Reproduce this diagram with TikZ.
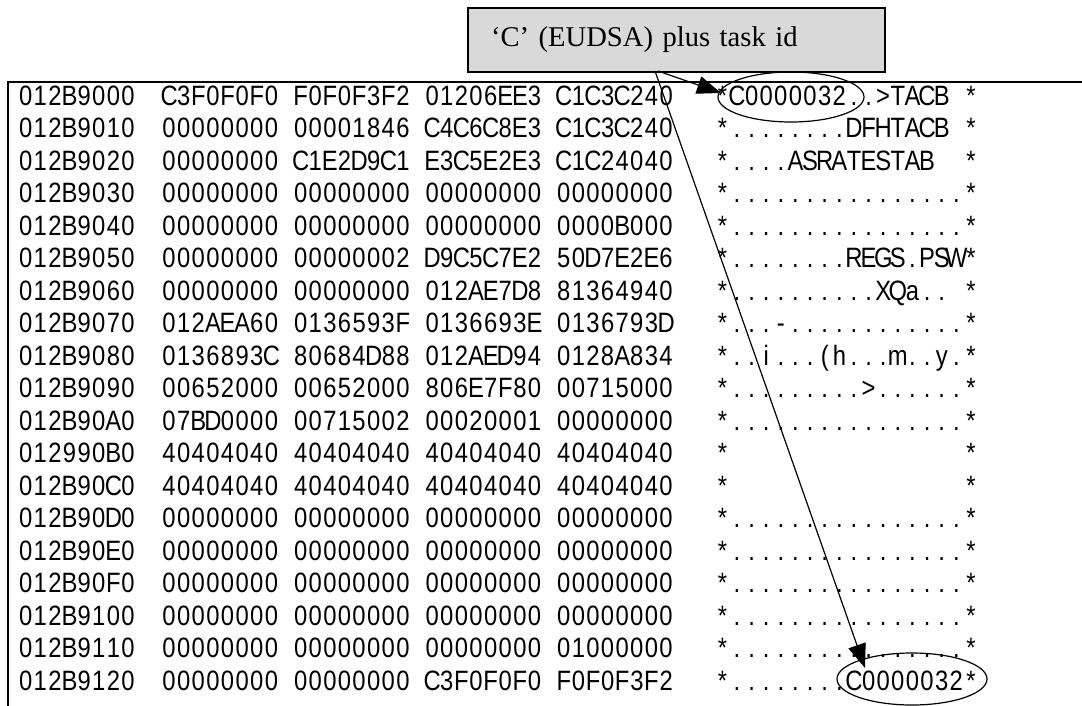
\documentclass[tikz,border=0pt]{standalone}
\usepackage{fontspec}
\setmainfont{Liberation Serif}
\newfontfamily\hexfont[FakeStretch=0.85]{Liberation Sans}
\usetikzlibrary{arrows.meta,shapes.geometric}
\newcommand\bl{\hphantom{0}}
\newlength\cellw
\setlength\cellw{7.31pt}
\def\mono#1{\monoA#1\relax}
\def\monoA#1{\ifx#1\relax\else\makebox[\cellw][c]{#1}\expandafter\monoA\fi}
\begin{document}
\begin{tikzpicture}[x=0.5pt,y=-0.5pt,
  hexcol/.style={anchor=base west,inner sep=0pt,font=\hexfont\fontsize{14pt}{15pt}\selectfont},
  frame/.style={line width=0.75pt},
  callout/.style={draw,line width=1pt,fill=gray!30,anchor=north west,
    minimum width=208.5pt,minimum height=32pt,text width=185.5pt,inner xsep=11.5pt,
    align=left,font=\fontsize{14.3pt}{16pt}\selectfont},
  ring/.style={draw,ellipse,line width=0.6pt,inner sep=0pt},
  arr/.style={line width=0.6pt,-{Triangle[length=12pt,width=9pt]}}]
\useasboundingbox (0,0) rectangle (1082,706);
% frame
\coordinate (fl) at (8,706);
\coordinate (ftl) at (8,82);
\coordinate (ftr) at (1082,82);
\draw[frame] (fl) -- (ftl) -- (ftr);
% rows
\foreach \ad/\hx/\as [count=\i] in {
 {012B9000}/{C3F0F0F0\bl F0F0F3F2\bl 01206EE3\bl C1C3C240}/{*C0000032..>TACB\bl*},
 {012B9010}/{00000000\bl 00001846\bl C4C6C8E3\bl C1C3C240}/{*........DFHTACB\bl*},
 {012B9020}/{00000000\bl C1E2D9C1\bl E3C5E2E3\bl C1C24040}/{*....ASRATESTAB\bl\bl*},
 {012B9030}/{00000000\bl 00000000\bl 00000000\bl 00000000}/{*................*},
 {012B9040}/{00000000\bl 00000000\bl 00000000\bl 0000B000}/{*................*},
 {012B9050}/{00000000\bl 00000002\bl D9C5C7E2\bl 50D7E2E6}/{*........REGS.PSW*},
 {012B9060}/{00000000\bl 00000000\bl 012AE7D8\bl 81364940}/{*..........XQa..\bl*},
 {012B9070}/{012AEA60\bl 0136593F\bl 0136693E\bl 0136793D}/{*...-............*},
 {012B9080}/{0136893C\bl 80684D88\bl 012AED94\bl 0128A834}/{*..i...(h...m..y.*},
 {012B9090}/{00652000\bl 00652000\bl 806E7F80\bl 00715000}/{*.........>......*},
 {012B90A0}/{07BD0000\bl 00715002\bl 00020001\bl 00000000}/{*................*},
 {012990B0}/{40404040\bl 40404040\bl 40404040\bl 40404040}/{*\bl\bl\bl\bl\bl\bl\bl\bl\bl\bl\bl\bl\bl\bl\bl\bl*},
 {012B90C0}/{40404040\bl 40404040\bl 40404040\bl 40404040}/{*\bl\bl\bl\bl\bl\bl\bl\bl\bl\bl\bl\bl\bl\bl\bl\bl*},
 {012B90D0}/{00000000\bl 00000000\bl 00000000\bl 00000000}/{*................*},
 {012B90E0}/{00000000\bl 00000000\bl 00000000\bl 00000000}/{*................*},
 {012B90F0}/{00000000\bl 00000000\bl 00000000\bl 00000000}/{*................*},
 {012B9100}/{00000000\bl 00000000\bl 00000000\bl 00000000}/{*................*},
 {012B9110}/{00000000\bl 00000000\bl 00000000\bl 01000000}/{*................*},
 {012B9120}/{00000000\bl 00000000\bl C3F0F0F0\bl F0F0F3F2}/{*........C0000032*}}
{
  \pgfmathsetmacro\yy{105+(\i-1)*32.5}
  \node[hexcol] (a\i) at (18,\yy) {\expandafter\mono\expandafter{\ad}};
  \node[hexcol] (h\i) at (161.4,\yy) {\expandafter\mono\expandafter{\hx}};
  \node[hexcol] (c\i) at (714.7,\yy) {\expandafter\mono\expandafter{\as}};
}
% callout
\node[callout] (box) at (467,7) {‘C’ (EUDSA) plus task id};
% ellipses
\node[ring,minimum width=73pt,minimum height=25pt] (e1) at (791,97) {};
\node[ring,minimum width=75pt,minimum height=26pt] (e2) at (912,679) {};
% arrows
\coordinate (s1) at (658,71);
\coordinate (s2) at (655,71);
\coordinate (t1) at (721,93);
\coordinate (t2) at (865,668);
\draw[arr] (s1) -- (t1);
\draw[arr] (s2) -- (t2);
\end{tikzpicture}
\end{document}
